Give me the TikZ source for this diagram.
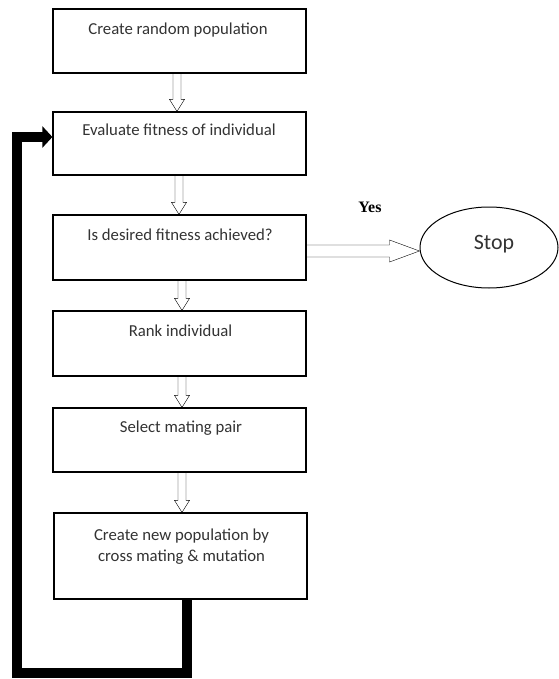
\documentclass[tikz,border=0pt]{standalone}
\usepackage{fontspec}
\setmainfont{Carlito}
\newfontfamily\yesfont{Liberation Serif}
\usetikzlibrary{calc,arrows.meta,shapes.geometric}
\definecolor{txtgray}{HTML}{333333}
\tikzset{
  box/.style={draw, line width=1.2bp, minimum width=253bp, inner sep=0pt},
  txt/.style={font=\fontsize{16.8}{20.5}\selectfont, text=txtgray, inner sep=0pt, align=center},
  hollowarrow/.style n args={3}{draw=black!80, fill=white, line width=0.9bp, line join=miter, to path={
    ($(\tikztostart)!#1!90:(\tikztotarget)$)
    -- ($($(\tikztotarget)!#3!(\tikztostart)$)!#1!-90:(\tikztostart)$)
    -- ($($(\tikztotarget)!#3!(\tikztostart)$)!#2!-90:(\tikztostart)$)
    -- (\tikztotarget)
    -- ($($(\tikztotarget)!#3!(\tikztostart)$)!#2!90:(\tikztostart)$)
    -- ($($(\tikztotarget)!#3!(\tikztostart)$)!#1!90:(\tikztostart)$)
    -- ($(\tikztostart)!#1!-90:(\tikztotarget)$)
  }},
  smallarrow/.style={hollowarrow={4bp}{7.5bp}{12bp}},
  bigarrow/.style={hollowarrow={6bp}{11bp}{30bp}},
  loopline/.style={line width=10bp, line join=miter, -{Triangle[length=10bp,width=21bp]}}
}
\begin{document}
\begin{tikzpicture}[x=1bp,y=-1bp]
\useasboundingbox[fill=white] (0,0) rectangle (559,679);
% boxes
\node[box, minimum height=64bp] (b1) at (179.5,41) {};
\node[box, minimum height=63bp] (b2) at (179.5,143.5) {};
\node[box, minimum height=65bp] (b3) at (179.5,247.5) {};
\node[box, minimum height=65bp] (b4) at (179.5,343.5) {};
\node[box, minimum height=64bp] (b5) at (179.5,440) {};
\node[box, minimum height=86bp] (b6) at (180.5,556) {};
% texts
\node[txt] (t1) at (178,30) {Create random population};
\node[txt] (t2) at (179,130) {Evaluate fitness of individual};
\node[txt] (t3) at (180,235) {Is desired fitness achieved?};
\node[txt] (t4) at (180.5,331) {Rank individual};
\node[txt] (t5) at (181,428) {Select mating pair};
\node[txt, text depth=0pt] (t6) at (181.5,545) {Create new population by\\cross mating \& mutation};
% stop
\node[draw, ellipse, line width=1bp, minimum width=138bp, minimum height=81bp, inner sep=0pt] (stop) at (489,247.5) {};
\node[font=\fontsize{22}{26}\selectfont, text=txtgray, inner sep=0pt] (ts) at (494,244) {Stop};
\node[font=\yesfont\bfseries\fontsize{16}{19}\selectfont, inner sep=0pt] (yes) at (370,207) {Yes};
% hollow arrows
\draw ([xshift=-2.5bp]b1.south) to[smallarrow] ([xshift=-2.5bp]b2.north);
\draw ([xshift=-0.5bp]b2.south) to[smallarrow] ([xshift=-0.5bp]b3.north);
\draw ([xshift=2.5bp]b3.south) to[smallarrow] ([xshift=2.5bp]b4.north);
\draw ([xshift=2.5bp]b4.south) to[smallarrow] ([xshift=2.5bp]b5.north);
\draw ([xshift=2.5bp]b5.south) to[smallarrow] ([xshift=1.5bp]b6.north);
\draw ([yshift=-3.5bp]b3.east) to[bigarrow] ([yshift=-3.5bp]stop.west);
% loop back
\coordinate (c1) at (187,673);
\coordinate (c2) at (17,673);
\coordinate (c3) at (17,137);
\draw[loopline] (b6.south -| c1) -- (c1) -- (c2) -- (c3) -- (b2.west |- c3);
\end{tikzpicture}
\end{document}
